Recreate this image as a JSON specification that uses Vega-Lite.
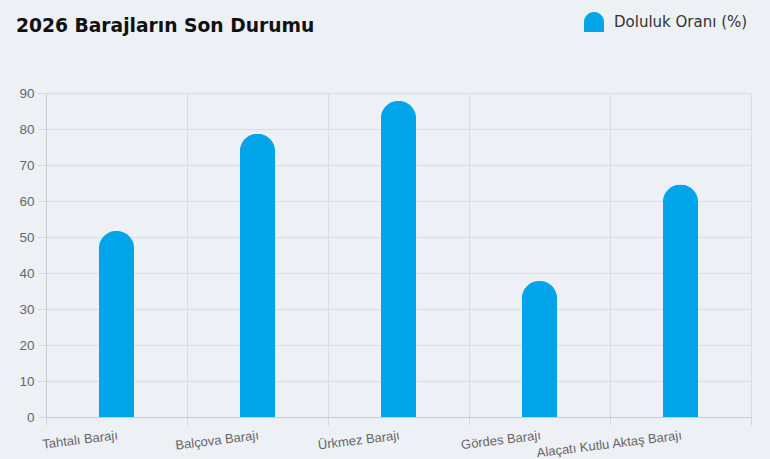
{
  "$schema": "https://vega.github.io/schema/vega-lite/v6.json",
  "autosize": {"type": "none"},
  "width": 705,
  "height": 324,
  "padding": {"left": 46, "top": 93, "right": 19, "bottom": 42},
  "background": "#edf0f4",
  "title": {
    "text": "2026 Barajların Son Durumu",
    "anchor": "start",
    "frame": "group",
    "dx": -30,
    "offset": 0,
    "dy": 24,
    "font": "DejaVu Sans",
    "fontSize": 18.7,
    "fontWeight": "bold",
    "color": "#111111"
  },
  "data": {
    "values": [
      {"baraj": "Tahtalı Barajı", "oran": 51.7, "seri": "Doluluk Oranı (%)"},
      {"baraj": "Balçova Barajı", "oran": 78.7, "seri": "Doluluk Oranı (%)"},
      {"baraj": "Ürkmez Barajı", "oran": 87.8, "seri": "Doluluk Oranı (%)"},
      {"baraj": "Gördes Barajı", "oran": 37.8, "seri": "Doluluk Oranı (%)"},
      {"baraj": "Alaçatı Kutlu Aktaş Barajı", "oran": 64.6, "seri": "Doluluk Oranı (%)"}
    ]
  },
  "mark": {
    "type": "bar",
    "width": {"band": 0.25},
    "cornerRadiusTopLeft": 17.5,
    "cornerRadiusTopRight": 17.5
  },
  "encoding": {
    "x": {
      "field": "baraj",
      "type": "nominal",
      "sort": null,
      "scale": {"paddingInner": 0, "paddingOuter": 0},
      "axis": {
        "title": null,
        "tickBand": "extent",
        "grid": true,
        "gridColor": "#dadde1",
        "domainColor": "#c9cbcf",
        "tickColor": "#d5d8dc",
        "tickSize": 8,
        "labelAngle": -7,
        "labelAlign": "right",
        "labelBaseline": "top",
        "labelPadding": 4,
        "labelFont": "Liberation Sans",
        "labelFontSize": 13,
        "labelColor": "#666666"
      }
    },
    "y": {
      "field": "oran",
      "type": "quantitative",
      "scale": {"domain": [0, 90], "nice": false},
      "axis": {
        "title": null,
        "values": [0, 10, 20, 30, 40, 50, 60, 70, 80, 90],
        "grid": true,
        "gridColor": "#dadde1",
        "domainColor": "#c9cbcf",
        "tickColor": "#d5d8dc",
        "tickSize": 8,
        "labelPadding": 4,
        "labelFont": "Liberation Sans",
        "labelFontSize": 13.5,
        "labelColor": "#666666"
      }
    },
    "color": {
      "field": "seri",
      "type": "nominal",
      "scale": {"range": ["#02a4ea"]},
      "legend": {
        "title": null,
        "orient": "none",
        "legendX": 538,
        "legendY": -81,
        "symbolType": "M-1,1 L-1,0 A1,1 0 0 1 1,0 L1,1 Z",
        "symbolSize": 400,
        "symbolStrokeWidth": 0,
        "symbolOpacity": 1,
        "labelFont": "DejaVu Sans",
        "labelFontSize": 15,
        "labelColor": "#333333",
        "labelOffset": 10
      }
    }
  },
  "config": {"view": {"stroke": null}}
}
